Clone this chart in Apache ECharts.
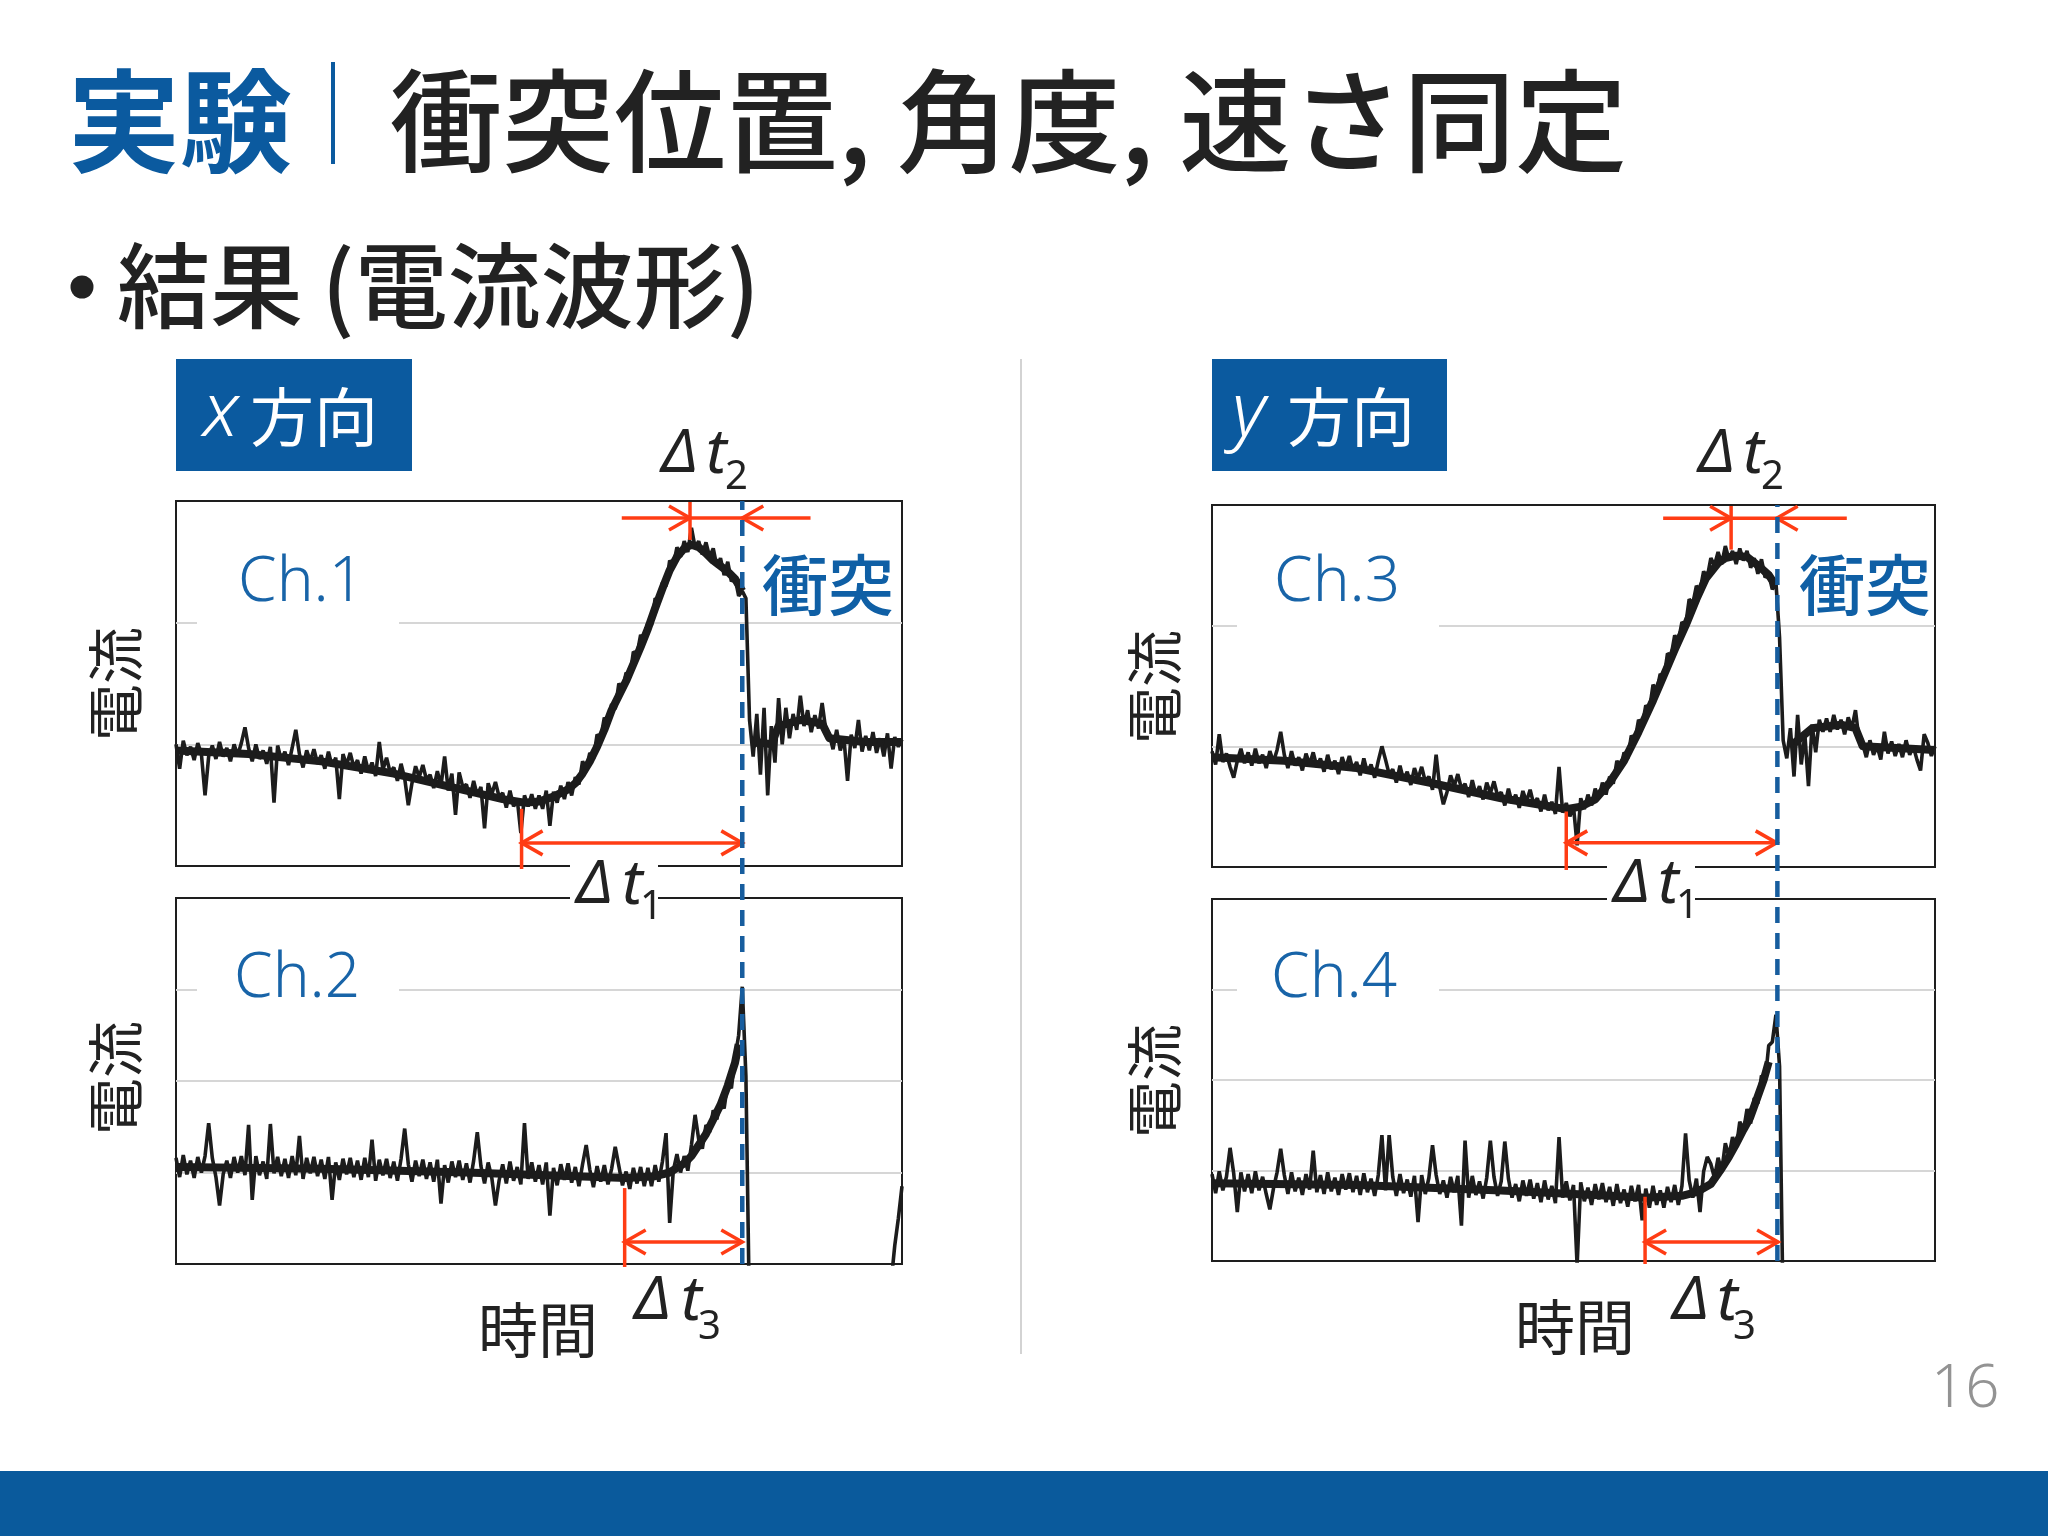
<!DOCTYPE html>
<html><head><meta charset="utf-8">
<script src="https://cdn.jsdelivr.net/npm/echarts@6/dist/echarts.min.js"></script>
<style>html,body{margin:0;padding:0;background:#fff}#c{width:2048px;height:1536px}</style>
</head><body><div id="c"></div>
<script>
// ---------- data (time axis 0..100, step 0.5; current in grid units) ----------
const timeStep = 0.5;
const ch1Current = [
 1.00,0.80,1.03,0.91,0.98,0.87,1.01,0.92,0.58,0.90,
 0.99,0.88,1.02,0.90,0.97,0.86,1.00,0.91,1.01,1.14,
 0.97,0.86,1.00,0.88,0.95,0.84,0.98,0.52,0.99,0.87,
 0.94,0.83,0.97,1.12,0.92,0.81,0.95,0.86,0.96,0.84,
 0.91,0.80,0.94,0.82,0.89,0.55,0.92,0.83,0.93,0.81,
 0.87,0.76,0.90,0.78,0.85,0.74,1.02,0.79,0.89,0.77,
 0.81,0.70,0.84,0.72,0.50,0.68,0.82,0.73,0.83,0.71,
 0.75,0.64,0.78,0.66,0.90,0.62,0.76,0.42,0.77,0.65,
 0.67,0.56,0.70,0.58,0.65,0.31,0.68,0.59,0.69,0.57,
 0.60,0.48,0.62,0.49,0.55,0.27,0.58,0.49,0.59,0.47,
 0.58,0.47,0.62,0.33,0.61,0.52,0.66,0.55,0.69,0.58,
 0.73,0.67,0.86,0.80,0.93,0.88,1.08,1.05,1.22,1.17,
 1.33,1.29,1.50,1.45,1.59,1.55,1.76,1.74,1.90,1.84,
 2.00,1.98,2.20,2.17,2.33,2.30,2.51,2.47,2.62,2.54,
 2.67,2.58,2.78,2.62,2.67,2.56,2.66,2.54,2.61,2.46,
 2.53,2.39,2.50,2.34,2.37,2.22,2.26,2.20,1.20,0.90,
 1.25,0.75,1.30,0.58,1.15,0.85,1.38,1.00,1.30,1.05,
 1.25,1.12,1.40,1.15,1.28,1.10,1.24,1.13,1.34,1.12,
 1.08,0.96,1.12,0.95,1.05,0.70,1.08,0.97,1.20,0.94,
 1.07,0.95,1.10,0.93,1.05,0.90,1.09,0.80,1.06,0.98,
 1.04];
const ch2Current = [
 1.16,0.95,1.19,0.98,1.13,0.94,1.17,1.00,1.18,1.54,
 1.16,0.95,0.64,0.98,1.13,0.94,1.17,1.00,1.18,0.97,
 1.52,0.70,1.18,0.97,1.12,0.93,1.53,0.99,1.17,0.96,
 1.15,0.94,1.18,0.97,1.40,0.93,1.16,0.99,1.17,0.96,
 1.14,0.93,1.17,0.70,1.11,0.92,1.15,0.98,1.16,0.95,
 1.13,0.92,1.16,0.95,1.36,0.91,1.14,0.97,1.15,0.94,
 1.12,0.91,1.15,1.48,1.09,0.90,1.13,0.96,1.14,0.93,
 1.11,0.90,1.14,0.66,1.08,0.89,1.12,0.95,1.13,0.92,
 1.10,0.89,1.13,1.44,1.07,0.88,1.11,0.94,0.64,0.91,
 1.09,0.88,1.12,0.91,1.06,0.87,1.54,0.93,1.11,0.90,
 1.08,0.87,1.11,0.53,1.05,0.86,1.09,0.92,1.10,0.89,
 1.06,0.85,1.09,1.30,1.03,0.84,1.07,0.90,1.08,0.87,
 1.04,1.28,1.07,0.86,1.01,0.82,1.05,0.88,1.06,0.85,
 1.05,0.85,1.08,0.90,1.12,1.43,0.45,1.02,1.20,1.00,
 1.18,1.02,1.30,1.63,1.36,1.26,1.52,1.44,1.68,1.58,
 1.78,1.70,1.98,1.92,2.25,2.50,3.03,2.05,-0.6,-0.6,
 -0.6,-0.6,-0.6,-0.6,-0.6,-0.6,-0.6,-0.6,-0.6,-0.6,
 -0.6,-0.6,-0.6,-0.6,-0.6,-0.6,-0.6,-0.6,-0.6,-0.6,
 -0.6,-0.6,-0.6,-0.6,-0.6,-0.6,-0.6,-0.6,-0.6,-0.6,
 -0.6,-0.6,-0.6,-0.6,-0.6,-0.6,-0.6,-0.2,0.2,0.5,
 0.85];
const ch3Current = [
 0.96,0.85,1.10,0.87,0.94,0.83,0.74,0.88,0.98,0.86,
 0.95,0.84,0.98,0.86,0.93,0.82,0.96,0.87,0.97,1.12,
 0.93,0.82,0.96,0.84,0.91,0.80,0.94,0.85,0.95,0.83,
 0.90,0.79,0.93,0.81,0.88,0.77,0.91,0.82,0.92,0.80,
 0.87,0.76,0.90,0.78,0.85,0.74,0.88,1.00,0.89,0.77,
 0.81,0.70,0.84,0.72,0.79,0.68,0.82,0.73,0.83,0.71,
 0.75,0.64,0.93,0.66,0.52,0.62,0.76,0.67,0.77,0.65,
 0.69,0.58,0.72,0.60,0.67,0.56,0.70,0.61,0.71,0.59,
 0.62,0.51,0.65,0.53,0.60,0.49,0.63,0.54,0.64,0.52,
 0.57,0.46,0.60,0.47,0.54,0.44,0.83,0.45,0.53,0.42,
 0.50,0.18,0.57,0.48,0.60,0.51,0.65,0.57,0.70,0.60,
 0.75,0.69,0.88,0.82,0.95,0.90,1.09,1.05,1.22,1.17,
 1.34,1.30,1.51,1.46,1.60,1.56,1.77,1.75,1.92,1.87,
 2.03,2.00,2.22,2.18,2.33,2.29,2.45,2.40,2.56,2.50,
 2.61,2.51,2.66,2.55,2.62,2.51,2.64,2.54,2.62,2.48,
 2.56,2.43,2.55,2.40,2.43,2.30,2.36,1.90,1.05,0.90,
 1.15,0.75,1.26,0.85,1.10,0.67,1.18,0.95,1.22,1.12,
 1.23,1.12,1.26,1.14,1.22,1.10,1.24,1.15,1.30,1.05,
 1.02,0.91,1.05,0.93,1.00,0.89,1.12,0.94,1.04,0.92,
 1.02,0.91,1.05,0.93,1.00,0.89,0.80,1.10,1.03,0.92,
 1.00];
const ch4Current = [
 0.96,0.75,0.99,0.78,0.93,1.25,0.97,0.54,0.98,0.77,
 0.96,0.75,0.99,0.78,0.93,0.74,0.57,0.80,0.98,1.24,
 0.95,0.74,0.98,0.77,0.92,0.73,0.96,0.79,1.22,0.76,
 0.95,0.74,0.98,0.77,0.92,0.73,0.96,0.79,0.97,0.76,
 0.94,0.73,0.97,0.76,0.91,0.72,0.95,1.39,0.78,1.39,
 0.93,0.72,0.96,0.75,0.90,0.71,0.94,0.43,0.95,0.74,
 0.92,1.28,0.95,0.74,0.89,0.70,0.93,0.76,0.94,0.39,
 1.33,0.70,0.94,0.73,0.88,0.69,0.92,1.33,0.93,0.72,
 0.88,1.32,0.91,0.70,0.85,0.66,0.89,0.72,0.90,0.69,
 0.86,0.65,0.89,0.68,0.83,0.64,1.37,0.70,0.88,0.67,
 0.84,-0.05,0.87,0.66,0.81,0.62,0.85,0.68,0.86,0.65,
 0.82,0.61,0.85,0.64,0.79,0.60,0.83,0.66,0.84,0.45,
 0.80,0.59,0.83,0.62,0.78,0.59,0.82,0.65,0.84,0.62,
 0.83,1.41,0.89,0.70,0.91,0.54,0.99,1.15,1.07,0.92,
 1.14,0.99,1.30,1.16,1.37,1.24,1.54,1.43,1.68,1.52,
 1.80,1.74,2.05,1.98,2.38,2.42,2.72,2.15,-0.6,-0.6,
 -0.6,-0.6,-0.6,-0.6,-0.6,-0.6,-0.6,-0.6,-0.6,-0.6,
 -0.6,-0.6,-0.6,-0.6,-0.6,-0.6,-0.6,-0.6,-0.6,-0.6,
 -0.6,-0.6,-0.6,-0.6,-0.6,-0.6,-0.6,-0.6,-0.6,-0.6,
 -0.6,-0.6,-0.6,-0.6,-0.6,-0.6,-0.6,-0.6,-0.6,-0.6,
 -0.6];
// dense core of each noisy trace (band centre); null = gap
const ch1Trend = [[0,0.95],[10,0.92],[20,0.86],[30,0.76],[40,0.62],[45,0.55],[48,0.52],[50,0.53],[52,0.57],[54,0.63],[55,0.68],[56,0.76],[57,0.86],[58,0.98],[59,1.12],[60,1.28],[62,1.52],[64,1.80],[65,1.95],[66,2.12],[67,2.28],[68,2.43],[69,2.54],[70,2.61],[71,2.64],[72,2.62],[73,2.57],[74,2.51],[76,2.42],[77,2.36],[78,2.26],[78.5,null],[79.5,1.0],[80,1.02],[82,1.0],[83,1.15],[86,1.2],[89,1.17],[90,1.05],[95,1.02],[100,1.02]];
const ch2Trend = [[0,1.06],[20,1.04],[40,1.00],[55,0.96],[62,0.94],[66,0.96],[68,1.0],[69,1.05],[70,1.10],[71,1.18],[72,1.30],[73,1.42],[74,1.58],[75,1.74],[76,1.95],[77,2.2],[77.5,2.4]];
const ch3Trend = [[0,0.91],[10,0.88],[20,0.82],[30,0.70],[40,0.57],[45,0.52],[49,0.48],[51,0.50],[53,0.56],[55,0.70],[57,0.88],[59,1.12],[61,1.38],[62,1.52],[64,1.80],[65.5,2.0],[67,2.22],[68.3,2.39],[70,2.52],[71,2.56],[72.5,2.58],[74,2.57],[75.5,2.50],[77,2.42],[78,2.33],[78.5,null],[80,1.0],[83,1.15],[87,1.18],[89,1.15],[90,1.0],[100,0.97]];
const ch4Trend = [[0,0.86],[20,0.84],[40,0.78],[55,0.72],[60,0.70],[65,0.72],[67,0.76],[69,0.85],[70.3,1.0],[71.5,1.15],[72.4,1.28],[73.5,1.45],[74.4,1.58],[75.4,1.80],[76.3,2.0],[77,2.2]];
const channelData = [ch1Current, ch2Current, ch3Current, ch4Current];
const channelTrend = [ch1Trend, ch2Trend, ch3Trend, ch4Trend];
const channelNames = ['Ch.1', 'Ch.2', 'Ch.3', 'Ch.4'];
const yMax = [3, 4, 3, 4];
// event times
const onsetTime = [47.6, 61.8, 49.0, 59.9];
const onsetLevel = [0.47, 0.83, 0.46, 0.71];
const collisionTime = [78.0, 78.0, 78.1, 78.3];
const dt1Level = [0.19, 0.24, 0.20, 0.21];
const peakTime = [70.8, null, 71.8, null];
const peakLevel = [2.68, null, 2.63, null];
const dt2Level = [2.86, null, 2.89, null];
const dt2Start = [61.4, null, 62.4, null];
const dt2End = [87.4, null, 87.8, null];

// ---------- styles / layout ----------
const JP = '"Noto Sans CJK JP", sans-serif';
const LAT = '"Noto Sans", "Open Sans", sans-serif';
const BLUE = '#0b5a9f';
const TXTBLUE = '#1864a8';
const RED = '#ff3c14';
const INK = '#222222';
const TRACE = '#1c1c1c';

const grids = [
  {left: 176, top: 501, width: 726, height: 365},
  {left: 176, top: 898, width: 726, height: 366},
  {left: 1212, top: 505, width: 723, height: 362},
  {left: 1212, top: 899, width: 723, height: 362},
  {left: 176, top: 501, width: 726, height: 763},
  {left: 1212, top: 505, width: 723, height: 756}
];

function annotSeries(ch) {
  return {
    type: 'custom', xAxisIndex: ch, yAxisIndex: ch, clip: false, silent: true, z: 4,
    data: [[onsetTime[ch], onsetLevel[ch]]],
    renderItem: function (params, api) {
      const kids = [];
      const st = {stroke: RED, lineWidth: 3.5, fill: null, lineCap: 'butt'};
      const P = (x, y) => api.coord([x, y]);
      const seg = (a, b) => kids.push({type: 'line', shape: {x1: a[0], y1: a[1], x2: b[0], y2: b[1]}, style: st});
      const head = (tip, dir) => {
        const L = 21, W = 12;
        kids.push({type: 'polyline', shape: {points: [[tip[0] - dir * L, tip[1] - W], [tip[0], tip[1]], [tip[0] - dir * L, tip[1] + W]]}, style: st});
      };
      const o1 = P(onsetTime[ch], onsetLevel[ch]);
      const ob = P(onsetTime[ch], 0);
      seg(o1, [ob[0], ob[1] + 3]);
      const a = P(onsetTime[ch], dt1Level[ch]);
      const b = P(collisionTime[ch], dt1Level[ch]);
      seg(a, b); head(a, -1); head(b, 1);
      if (peakTime[ch] !== null) {
        const p1 = P(peakTime[ch], peakLevel[ch]);
        const p2 = P(peakTime[ch], yMax[ch]);
        seg(p1, [p2[0], p2[1] + 1]);
        const h1 = P(dt2Start[ch], dt2Level[ch]);
        const h2 = P(dt2End[ch], dt2Level[ch]);
        seg(h1, h2);
        head(P(peakTime[ch], dt2Level[ch]), 1);
        head(P(collisionTime[ch], dt2Level[ch]), -1);
      }
      return {type: 'group', children: kids};
    }
  };
}

const series = [];
channelData.forEach((arr, i) => {
  series.push({
    type: 'line', xAxisIndex: i, yAxisIndex: i, silent: true, z: 2,
    data: channelTrend[i], showSymbol: false, symbol: 'none', clip: true, connectNulls: false,
    lineStyle: {color: TRACE, width: 8, join: 'round', cap: 'butt'}
  });
  series.push({
    type: 'line', xAxisIndex: i, yAxisIndex: i, silent: true, z: 2,
    data: arr.map((v, k) => [k * timeStep, v]),
    showSymbol: false, symbol: 'none', clip: true,
    lineStyle: {color: TRACE, width: 3.6, join: 'bevel'}
  });
  series.push(annotSeries(i));
});
const collisionLeft = (collisionTime[0] + collisionTime[1]) / 2;
const collisionRight = (collisionTime[2] + collisionTime[3]) / 2;
[[4, collisionLeft], [5, collisionRight]].forEach(([gi, t]) => {
  series.push({
    type: 'line', xAxisIndex: gi, yAxisIndex: gi, silent: true, z: 6,
    data: [[t, 0], [t, 1]], showSymbol: false, symbol: 'none',
    lineStyle: {color: '#175d9e', width: 4.5, type: [16, 10]}
  });
});

// ---------- slide text & decorations ----------
function T(text, x, y, size, fill, family, extra) {
  const st = Object.assign({
    text: text, fill: fill, fontSize: size, fontFamily: family,
    align: 'left', verticalAlign: 'middle', textAlign: 'left', textVerticalAlign: 'middle'
  }, (extra && extra.style) || {});
  return Object.assign({type: 'text', x: x, y: y, z: 10, silent: true, style: st}, (extra && extra.el) || {});
}
function R(x, y, w, h, fill, z) {
  return {type: 'rect', z: z, silent: true, shape: {x: x, y: y, width: w, height: h}, style: {fill: fill}};
}
function delta(xD, xT, xS, yMid, ySub, sub) {
  return [
    T('Δ', xD, yMid, 60, INK, LAT, {style: {fontStyle: 'italic'}}),
    T('t', xT, yMid, 62, INK, LAT, {style: {fontStyle: 'italic'}}),
    T(sub, xS, ySub, 40, INK, LAT)
  ];
}
const center = {align: 'center', textAlign: 'center'};
const light = {style: {fontWeight: 300}};

const graphic = [
  T('実験', 68, 121, 112, BLUE, JP, {style: {fontWeight: 'bold'}}),
  R(331, 62, 4, 102, BLUE, 10),
  T('衝突位置, 角度, 速さ同定', 390, 121, 112, INK, JP, {style: {fontWeight: 500}}),
  {type: 'circle', z: 10, silent: true, shape: {cx: 82, cy: 287, r: 11.5}, style: {fill: INK}},
  T('結果\u2009(電流波形)', 117, 286, 93, INK, JP, {style: {fontWeight: 500}}),
  R(176, 359, 236, 112, BLUE, 10),
  T('x', 203, 414, 76, '#ffffff', LAT, {style: {fontStyle: 'italic', fontWeight: 300}}),
  T('方向', 250, 417, 64, '#ffffff', JP),
  R(1212, 359, 235, 112, BLUE, 10),
  T('y', 1232, 414, 76, '#ffffff', LAT, {style: {fontStyle: 'italic', fontWeight: 300}}),
  T('方向', 1287, 417, 64, '#ffffff', JP),
  {type: 'line', z: 10, silent: true, shape: {x1: 1021, y1: 359, x2: 1021, y2: 1354}, style: {stroke: '#c4c4c4', lineWidth: 1.5}},
  R(197, 538, 202, 100, '#ffffff', 1),
  R(197, 935, 202, 85, '#ffffff', 1),
  R(1237, 540, 202, 100, '#ffffff', 1),
  R(1237, 935, 202, 85, '#ffffff', 1),
  T(channelNames[0], 238, 583, 62, TXTBLUE, LAT, light),
  T(channelNames[1], 234, 979, 62, TXTBLUE, LAT, light),
  T(channelNames[2], 1274, 583, 62, TXTBLUE, LAT, light),
  T(channelNames[3], 1271, 979, 62, TXTBLUE, LAT, light),
  T('衝突', 762, 585, 66, '#0f5fa5', JP, {style: {fontWeight: 500}}),
  T('衝突', 1799, 585, 66, '#0f5fa5', JP, {style: {fontWeight: 500}}),
  R(570, 858, 88, 50, '#ffffff', 3),
  R(1607, 858, 88, 50, '#ffffff', 3),
  ...delta(662, 706, 725, 455, 478, '2'),
  ...delta(1699, 1743, 1761, 455, 478, '2'),
  ...delta(577, 622, 640, 886, 908, '1'),
  ...delta(1614, 1658, 1676, 885, 907, '1'),
  ...delta(635, 681, 698, 1302, 1328, '3'),
  ...delta(1673, 1717, 1733, 1302, 1328, '3'),
  T('時間', 478, 1330, 60, INK, JP),
  T('時間', 1515, 1327, 60, INK, JP),
  T('電流', 115, 684, 57, INK, JP, {el: {rotation: Math.PI / 2}, style: center}),
  T('電流', 115, 1078, 57, INK, JP, {el: {rotation: Math.PI / 2}, style: center}),
  T('電流', 1154, 687, 57, INK, JP, {el: {rotation: Math.PI / 2}, style: center}),
  T('電流', 1154, 1081, 57, INK, JP, {el: {rotation: Math.PI / 2}, style: center}),
  T('16', 1931, 1390, 60, '#939393', LAT, light),
  R(0, 1471, 2048, 65, '#0a5a9c', 10)
];

const option = {
  animation: false,
  backgroundColor: '#ffffff',
  grid: grids.map((g, i) => Object.assign({}, g, i < 4
    ? {show: true, borderColor: '#1e1e1e', borderWidth: 2, backgroundColor: 'transparent'}
    : {show: false})),
  xAxis: grids.map((g, i) => ({type: 'value', gridIndex: i, min: 0, max: 100, show: false})),
  yAxis: grids.map((g, i) => i < 4 ? {
    type: 'value', gridIndex: i, min: 0, max: yMax[i], interval: 1,
    axisLine: {show: false}, axisTick: {show: false}, axisLabel: {show: false},
    splitLine: {show: true, showMinLine: false, showMaxLine: false, lineStyle: {color: '#d6d6d6', width: 2}}
  } : {type: 'value', gridIndex: i, min: 0, max: 1, show: false}),
  series: series,
  graphic: graphic
};
const chart = echarts.init(document.getElementById('c'), null, {renderer: 'canvas'});
chart.setOption(option);
</script></body></html>
